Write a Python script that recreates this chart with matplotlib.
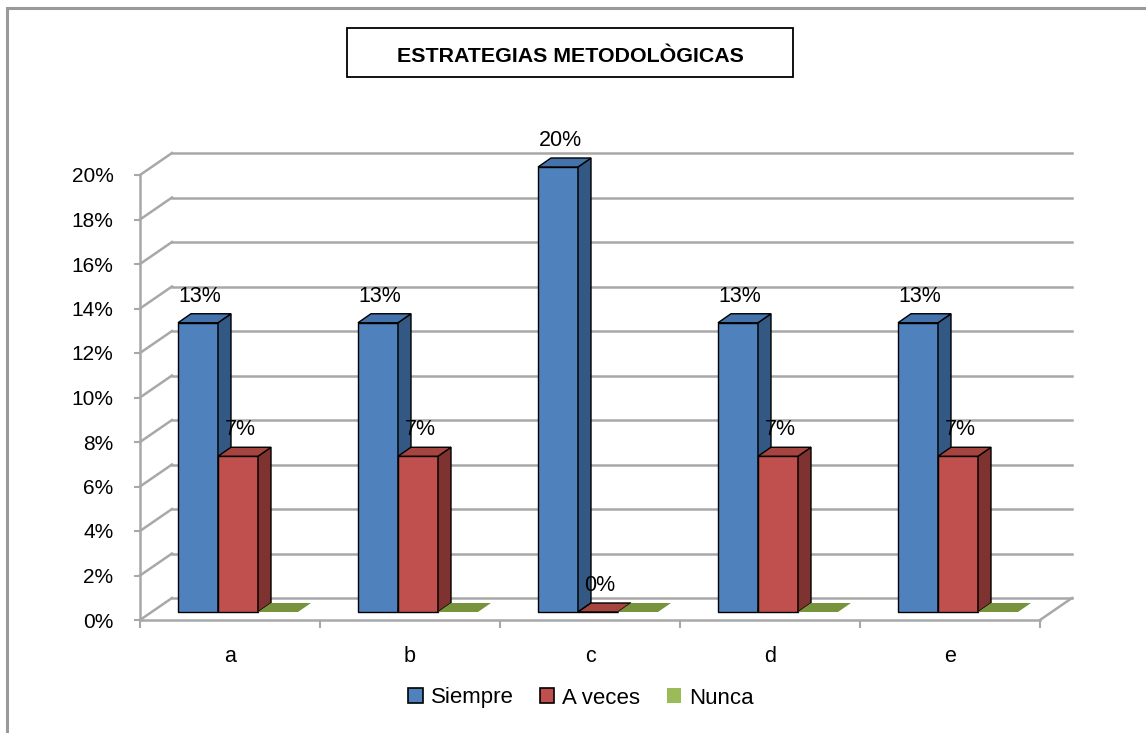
import numpy as np
import matplotlib.pyplot as plt
from matplotlib.patches import Polygon, Rectangle, Patch

plt.rcParams['font.family'] = ['Liberation Sans', 'DejaVu Sans']

# data
categories = ['a', 'b', 'c', 'd', 'e']
series = ['Siempre', 'A veces', 'Nunca']
siempre = [13, 13, 20, 13, 13]
a_veces = [7, 7, 0, 7, 7]
nunca = [0, 0, 0, 0, 0]
values = [siempre, a_veces, nunca]
show_labels = [True, True, False]
yticks = list(range(0, 21, 2))

# colours: front, side, top
front_col = ['#4F81BD', '#C0504D', '#9BBB59']
side_col = ['#335883', '#7E3331', '#71893F']
top_col = ['#4472AA', '#A64440', '#77933C']
edge_col = ['black', 'black', 'none']

W, H = 1146, 733
fig = plt.figure(figsize=(W / 100, H / 100), dpi=100)

# outer border and title box
fig.patches.append(Rectangle((6.5 / W, -0.1), 1.2, (H - 8.5) / H + 0.1,
                             transform=fig.transFigure, fill=False,
                             edgecolor='#9A9A9A', lw=2.2))
fig.patches.append(Rectangle((347 / W, (H - 77) / H), 446 / W, 49 / H,
                             transform=fig.transFigure, facecolor='white',
                             edgecolor='black', lw=1.3))
fig.text(570 / W, (H - 56) / H, 'ESTRATEGIAS METODOLÒGICAS', ha='center',
         va='center', fontsize=15.4, fontweight='bold')

# front plane of the 3d plot
ax = fig.add_axes([140 / W, 113 / H, 900 / W, 445 / H])
ax.set_xlim(0, 5)
ax.set_ylim(0, 20)
ax.patch.set_visible(False)

px_x = 900 / 5.0
px_y = 445 / 20.0
wall_dx, wall_dy = 32 / px_x, 22 / px_y
base_y = 8 / px_y
dep_dx, dep_dy = 13 / px_x, 9 / px_y
bw = 40 / px_x
start = 38 / px_x

# back wall and side wall gridlines
grid_c = '#A8A8A8'
for v in yticks:
    ax.plot([0, wall_dx], [v, v + wall_dy], color=grid_c, lw=1.8,
            clip_on=False, zorder=0)
    ax.plot([wall_dx, 5 + wall_dx], [v + wall_dy, v + wall_dy], color=grid_c,
            lw=1.8, clip_on=False, zorder=0)
ax.plot([5, 5 + wall_dx], [0, wall_dy], color=grid_c, lw=1.8, clip_on=False,
        zorder=0)

# bars
for i in range(len(categories)):
    for s in range(len(series)):
        v = values[s][i]
        x0 = i + start + s * bw
        z = 2 + i * 3 + s
        ax.bar(x0, v, width=bw, bottom=base_y, align='edge',
               color=front_col[s], edgecolor=edge_col[s], lw=1.0,
               zorder=z, clip_on=False)
        top = base_y + v
        side = [(x0 + bw, base_y), (x0 + bw + dep_dx, base_y + dep_dy),
                (x0 + bw + dep_dx, top + dep_dy), (x0 + bw, top)]
        lid = [(x0, top), (x0 + bw, top), (x0 + bw + dep_dx, top + dep_dy),
               (x0 + dep_dx, top + dep_dy)]
        if v > 0:
            ax.add_patch(Polygon(side, closed=True, facecolor=side_col[s],
                                 edgecolor=edge_col[s], lw=1.0, zorder=z,
                                 clip_on=False))
        ax.add_patch(Polygon(lid, closed=True, facecolor=top_col[s],
                             edgecolor=edge_col[s], lw=1.0, zorder=z,
                             clip_on=False))
        if show_labels[s]:
            ax.text(x0 + bw / 2 + 0.012, top + 1.2, '%d%%' % v, ha='center',
                    va='center', fontsize=15.5, zorder=30, clip_on=False)

# axes
for sp in ['top', 'right']:
    ax.spines[sp].set_visible(False)
for sp in ['left', 'bottom']:
    ax.spines[sp].set_color(grid_c)
    ax.spines[sp].set_linewidth(1.8)
ax.set_yticks(yticks)
ax.set_yticklabels(['%d%%' % t for t in yticks])
ax.set_xticks(range(6))
ax.set_xticklabels([])
ax.set_xticks([i + 0.5 for i in range(5)], minor=True)
ax.set_xticklabels(categories, minor=True)
ax.tick_params(axis='y', direction='out', length=4, width=1.5, color=grid_c,
               labelsize=15, pad=15)
ax.tick_params(axis='x', which='major', direction='out', length=6, width=1.5,
               color=grid_c)
ax.tick_params(axis='x', which='minor', length=0, labelsize=15.5, pad=19)

handles = [Patch(facecolor=front_col[s], edgecolor=edge_col[s], lw=1.2,
                 label=series[s]) for s in range(3)]
fig.legend(handles=handles, loc='center', bbox_to_anchor=(581 / W, (H - 698) / H),
           ncol=3, frameon=False, fontsize=16, handlelength=0.65,
           handleheight=0.65, handletextpad=0.35, columnspacing=1.2)

fig.savefig('out.png', dpi=100)
